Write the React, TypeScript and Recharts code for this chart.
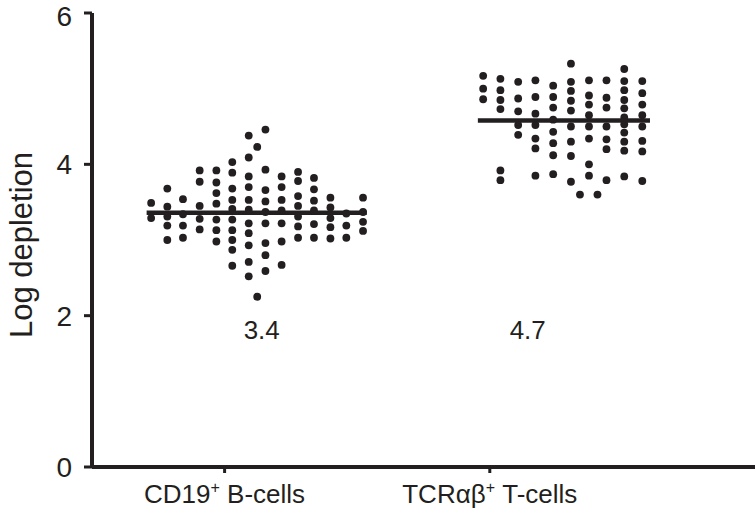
import { ScatterChart, Scatter, XAxis, YAxis, ReferenceLine } from 'recharts';

const INK = '#231f20';
const FONT = '"Liberation Sans", Arial, Helvetica, sans-serif';

// category labels split so the "+" can be drawn as a superscript
const categoryLabels = [
  { main: 'CD19', sup: '+', rest: ' B-cells' },
  { main: 'TCRαβ', sup: '+', rest: ' T-cells' },
];
const categoryTicks = [1, 2];
const yTicks = [0, 2, 4, 6];

// swarm columns: x is the horizontal slot, ys the log depletion values stacked in it
const bCellColumns = [
  { x: 0.723, ys: [3.49, 3.29] },
  { x: 0.784, ys: [3.68, 3.44, 3.31, 3.19, 3.0] },
  { x: 0.843, ys: [3.54, 3.34, 3.19, 3.03] },
  { x: 0.906, ys: [3.92, 3.77, 3.45, 3.28, 3.14] },
  { x: 0.969, ys: [3.92, 3.76, 3.62, 3.48, 3.27, 3.13, 2.98] },
  { x: 1.029, ys: [4.03, 3.89, 3.68, 3.53, 3.41, 3.27, 3.13, 3.0, 2.87, 2.66] },
  { x: 1.091, ys: [4.38, 4.09, 3.84, 3.7, 3.53, 3.4, 3.22, 3.09, 2.93, 2.71, 2.52] },
  { x: 1.123, ys: [4.23, 2.25] },
  { x: 1.154, ys: [4.46, 3.93, 3.66, 3.51, 3.37, 3.22, 2.96, 2.8, 2.59] },
  { x: 1.215, ys: [3.84, 3.7, 3.53, 3.39, 3.22, 2.98, 2.67] },
  { x: 1.277, ys: [3.9, 3.78, 3.58, 3.45, 3.31, 3.18, 3.03] },
  { x: 1.337, ys: [3.82, 3.67, 3.52, 3.39, 3.21, 3.03] },
  { x: 1.399, ys: [3.56, 3.43, 3.29, 3.17, 3.02] },
  { x: 1.459, ys: [3.35, 3.19, 3.03] },
  { x: 1.522, ys: [3.56, 3.37, 3.24, 3.12] },
];

const tCellColumns = [
  { x: 1.975, ys: [5.17, 5.0, 4.86] },
  { x: 2.04, ys: [5.13, 4.98, 4.85, 4.73, 3.92, 3.79] },
  { x: 2.107, ys: [5.09, 4.87, 4.7, 4.52, 4.39] },
  { x: 2.172, ys: [5.11, 4.89, 4.67, 4.52, 4.34, 4.21, 3.85] },
  { x: 2.239, ys: [5.04, 4.89, 4.75, 4.59, 4.43, 4.28, 4.12, 3.87] },
  { x: 2.306, ys: [5.33, 5.09, 4.97, 4.84, 4.71, 4.5, 4.3, 4.11, 3.77] },
  { x: 2.34, ys: [3.6] },
  { x: 2.374, ys: [5.11, 4.91, 4.79, 4.65, 4.5, 4.34, 4.0, 3.85] },
  { x: 2.406, ys: [3.6] },
  { x: 2.44, ys: [5.11, 4.88, 4.75, 4.5, 4.33, 4.2, 3.79] },
  { x: 2.507, ys: [5.26, 5.1, 4.98, 4.85, 4.74, 4.62, 4.53, 4.42, 4.3, 4.18, 3.84] },
  { x: 2.575, ys: [5.1, 4.94, 4.79, 4.65, 4.5, 4.31, 4.17, 3.78] },
];

// median bars (start/end slot + value) and the printed medians under each swarm
const medianBars = [
  { x1: 0.706, x2: 1.536, y: 3.36 },
  { x1: 1.955, x2: 2.604, y: 4.58 },
];
const medianLabels = [
  { x: 1.14, y: 1.81, label: '3.4' },
  { x: 2.143, y: 1.81, label: '4.7' },
];

const flatten = (cols: { x: number; ys: number[] }[]) =>
  cols.flatMap((c) => c.ys.map((y) => ({ x: c.x, y })));

const bCellPoints = flatten(bCellColumns);
const tCellPoints = flatten(tCellColumns);

const Dot = (props: any) => <circle cx={props.cx} cy={props.cy} r={3.9} fill={INK} />;

const ValueText = (props: any) => (
  <text
    x={props.cx}
    y={props.cy}
    textAnchor="middle"
    dominantBaseline="central"
    fontSize={26}
    fontFamily={FONT}
    fill={INK}
  >
    {props.payload.label}
  </text>
);

const CategoryTick = (props: any) => {
  const { x, y, payload } = props;
  const lbl = categoryLabels[categoryTicks.indexOf(payload.value)];
  if (!lbl) return null;
  return (
    <text x={x} y={y} dy="0.71em" textAnchor="middle" fontSize={26} fontFamily={FONT} fill={INK}>
      {lbl.main}
      <tspan dy={-10} fontSize={16}>
        {lbl.sup}
      </tspan>
      <tspan dy={10} fontSize={26}>
        {lbl.rest}
      </tspan>
    </text>
  );
};

const YTitle = (props: any) => {
  const vb = props.viewBox || { x: 0, y: 13, height: 455 };
  const cx = 21;
  const cy = vb.y + vb.height / 2 + 5;
  return (
    <text
      x={cx}
      y={cy}
      transform={`rotate(-90 ${cx} ${cy})`}
      textAnchor="middle"
      dominantBaseline="central"
      fontSize={31}
      fontFamily={FONT}
      fill={INK}
    >
      Log depletion
    </text>
  );
};

export default function App() {
  return (
    <div style={{ position: 'absolute', left: 0, top: 0, background: '#fff' }}>
      <ScatterChart width={755} height={520} margin={{ top: 13, right: 0, bottom: 0, left: 0 }}>
        <XAxis
          type="number"
          dataKey="x"
          domain={[0.5, 3]}
          ticks={categoryTicks}
          allowDataOverflow
          height={53}
          tickSize={6}
          tickMargin={12}
          axisLine={{ stroke: INK, strokeWidth: 4 }}
          tickLine={{ stroke: INK, strokeWidth: 3 }}
          tick={<CategoryTick />}
        />
        <YAxis
          type="number"
          dataKey="y"
          domain={[0, 6]}
          ticks={yTicks}
          allowDataOverflow
          width={92}
          tickSize={8}
          tickMargin={12}
          axisLine={{ stroke: INK, strokeWidth: 4 }}
          tickLine={{ stroke: INK, strokeWidth: 3 }}
          tick={{ fontSize: 28, fontFamily: FONT, fill: INK }}
          label={<YTitle />}
        />
        {medianBars.map((m, i) => (
          <ReferenceLine
            key={i}
            segment={[
              { x: m.x1, y: m.y },
              { x: m.x2, y: m.y },
            ]}
            stroke={INK}
            strokeWidth={4.5}
          />
        ))}
        <Scatter data={bCellPoints} shape={<Dot />} isAnimationActive={false} />
        <Scatter data={tCellPoints} shape={<Dot />} isAnimationActive={false} />
        <Scatter data={medianLabels} shape={<ValueText />} isAnimationActive={false} />
      </ScatterChart>
    </div>
  );
}
